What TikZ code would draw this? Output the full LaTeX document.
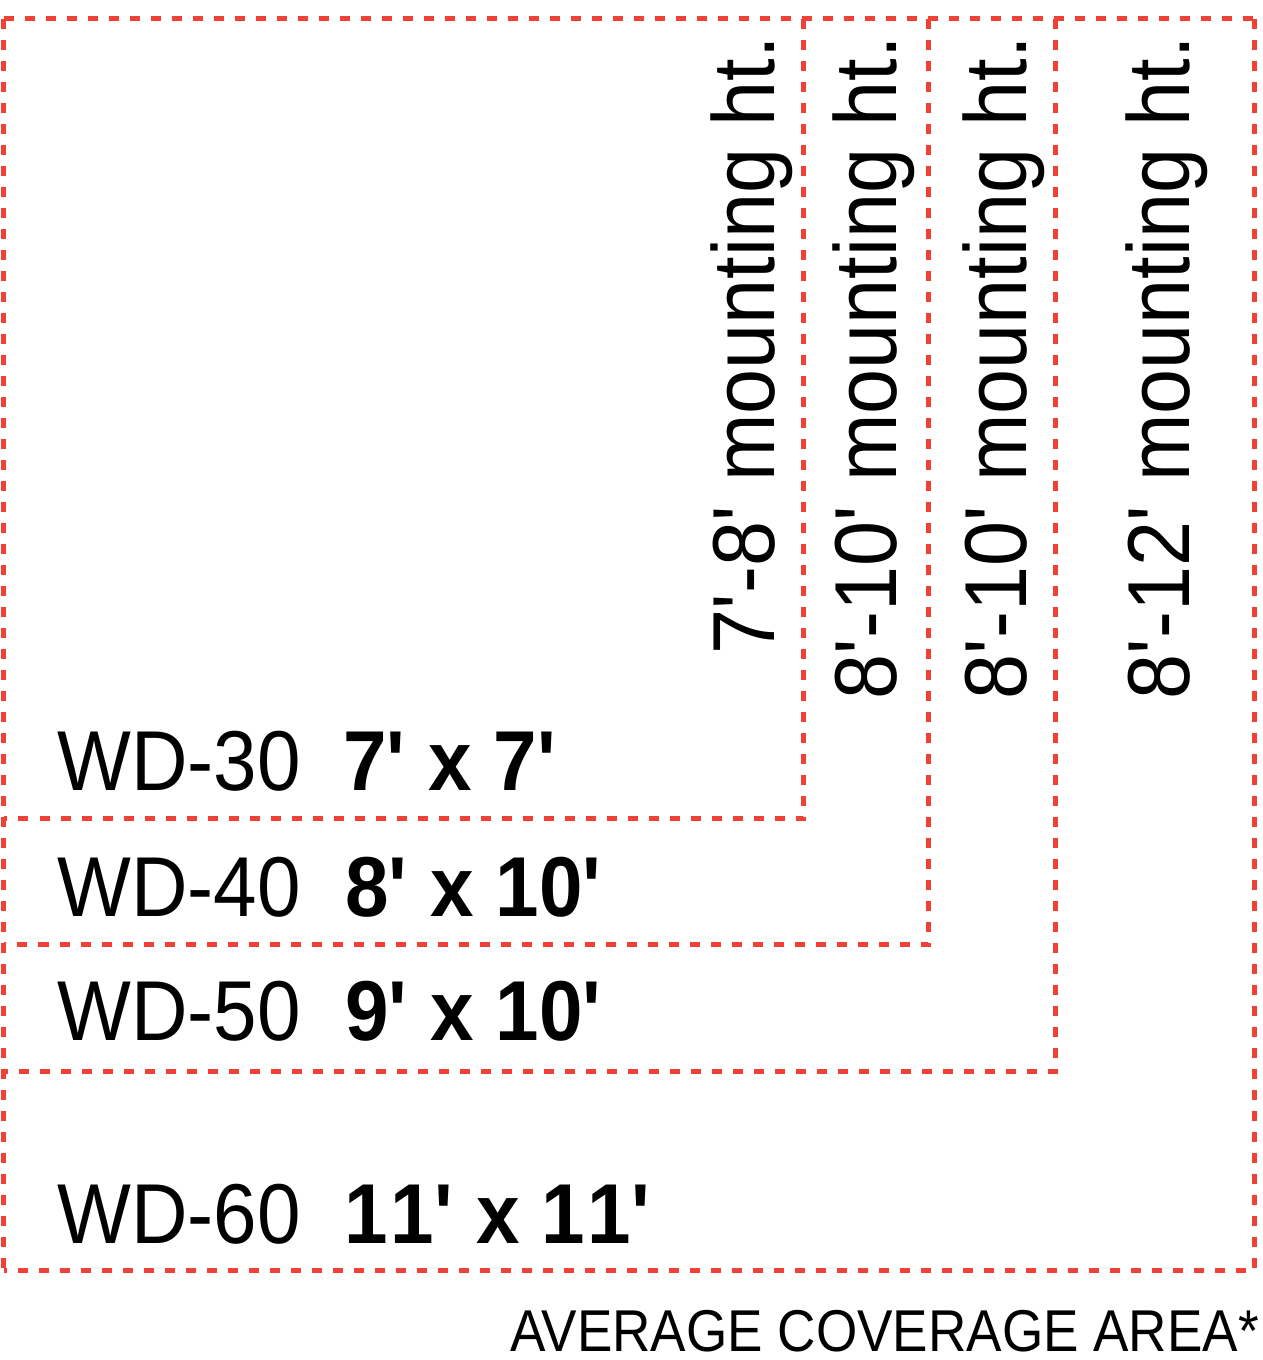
\documentclass[tikz,border=0pt]{standalone}
\usepackage{fontspec}
\usepackage{tikz}
\newfontfamily\condfont{Liberation Sans}[FakeStretch=0.92]
\newfontfamily\notefont{Liberation Sans}[FakeStretch=0.9]
\definecolor{zred}{HTML}{EF4136}
\newcommand\ft{\textquotesingle}
\tikzset{
  zone/.style={draw=zred, line width=5pt, dash pattern=on 10pt off 11pt},
  model/.style={anchor=base west, inner sep=0pt, font=\condfont\fontsize{85}{90}\selectfont},
  area/.style={model, font=\condfont\bfseries\fontsize{85}{90}\selectfont},
  mount/.style={rotate=90, anchor=base east, inner sep=0pt, font=\condfont\fontsize{88}{90}\selectfont},
  note/.style={anchor=base east, inner sep=0pt, font=\notefont\fontsize{59}{59}\selectfont}
}

\begin{document}
\begin{tikzpicture}[x=1pt, y=-1pt]
  \useasboundingbox (0,0) rectangle (1262,1360);

  % coverage outlines, all from the same corner
  \coordinate (o) at (3.5,18.5);
  \draw[zone] (o) -- (1254.5,18.5);
  \draw[zone] (o) -- (3.5,1270);
  \foreach \n/\x/\y in {30/803.5/818.5, 40/928.5/944.5, 50/1055.5/1071, 60/1254.5/1270} {
    \coordinate (c\n) at (\x,\y);
    \draw[zone] (\x,18.5) -- (c\n) -- (3.5,\y);
  }

  % model and area
  \node[model] (m30) at (57,790) {WD-30};
  \node[area] (a30) at (343,790) {7\ft{} x 7\ft};
  \node[model] (m40) at (57,916) {WD-40};
  \node[area] (a40) at (345,916) {8\ft{} x 10\ft};
  \node[model] (m50) at (57,1040) {WD-50};
  \node[area] (a50) at (345,1040) {9\ft{} x 10\ft};
  \node[model] (m60) at (57,1243) {WD-60};
  \node[area] (a60) at (344,1243) {1\kern3pt1\ft{} x 1\kern3pt1\ft};

  % mounting heights
  \node[mount] (h30) at (774,36) {7\ft-8\ft{} mounting ht.};
  \node[mount] (h40) at (896,36) {8\ft-10\ft{} mounting ht.};
  \node[mount] (h50) at (1026,36) {8\ft-10\ft{} mounting ht.};
  \node[mount] (h60) at (1189,36) {8\ft-12\ft{} mounting ht.};

  \node[note] (avg) at (1259,1351) {AVERAGE COVERAGE AREA*};
\end{tikzpicture}
\end{document}
